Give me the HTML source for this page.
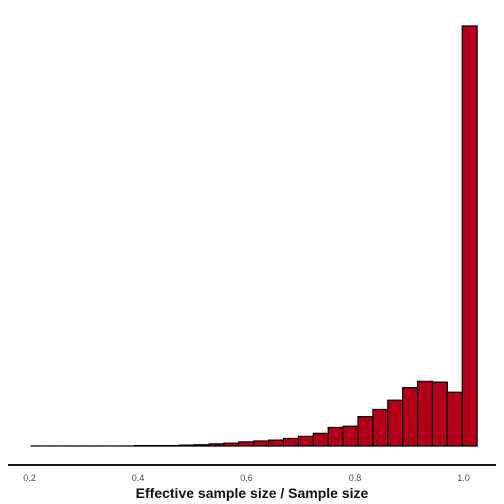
<!DOCTYPE html>
<html><head><meta charset="utf-8"><style>
html,body{margin:0;padding:0;background:#fff;}
svg{display:block;font-family:"Liberation Sans",Arial,sans-serif;}
</style></head><body>
<svg id="chart" width="504" height="504" viewBox="0 0 504 504" xmlns="http://www.w3.org/2000/svg">
<rect x="0" y="0" width="504" height="504" fill="#fff"/>
<g id="bars"></g>
<line x1="8" y1="465" x2="496" y2="465" stroke="#1a1a1a" stroke-width="2"/>
<g id="ticks"></g>
<text x="252" y="498" text-anchor="middle" font-size="14" font-weight="bold" fill="#111">Effective sample size / Sample size</text>
</svg>
<script>
const binStart = 0.2035;
const binWidth = 0.02745;
const counts = [0,0,0,0,0,0,0,1,1,1,2,3,5,7,10,12,14,18,23,30,44,47,70,87,109,139,154,152,128,1000];
const tickValues = [0.2,0.4,0.6,0.8,1.0];
const tickLabels = ["0.2","0.4","0.6","0.8","1.0"];
const maxCount = 1000;

const NS = "http://www.w3.org/2000/svg";
function xScale(v){ return 28.5 + (v - 0.2) * 542.5; }
function yScale(c){ return 446 - c / maxCount * 420; }

const barsG = document.getElementById('bars');
counts.forEach((c, i) => {
  const x0 = xScale(binStart + i * binWidth);
  const x1 = xScale(binStart + (i + 1) * binWidth);
  const y = yScale(c);
  const p = document.createElementNS(NS, 'path');
  p.setAttribute('d', `M${x0},446 L${x0},${y} L${x1},${y} L${x1},446 Z`);
  p.setAttribute('fill', '#b2001a');
  p.setAttribute('stroke', '#000');
  p.setAttribute('stroke-width', '1.2');
  
  
  barsG.appendChild(p);
});

const ticksG = document.getElementById('ticks');
tickValues.forEach((v, i) => {
  const t = document.createElementNS(NS, 'text');
  t.setAttribute('x', xScale(v) + 1);
  t.setAttribute('y', 481);
  t.setAttribute('text-anchor', 'middle');
  t.setAttribute('font-size', '9');
  t.setAttribute('fill', '#4d4d4d');
  t.textContent = tickLabels[i];
  
  
  ticksG.appendChild(t);
});
</script>
</body></html>
